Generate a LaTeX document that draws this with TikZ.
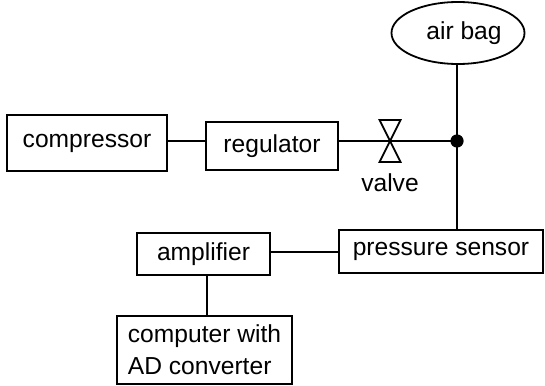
\documentclass[tikz,border=0pt]{standalone}
\usepackage{fontspec}
\setmainfont{Liberation Sans}
\usetikzlibrary{shapes.geometric}
\tikzstyle{block}=[draw, line width=0.9pt, inner sep=0pt, font=\fontsize{12.3}{16}\selectfont]
\tikzstyle{lbl}=[inner sep=0pt, font=\fontsize{12.3}{16}\selectfont]

\begin{document}
\begin{tikzpicture}[x=0.5pt, y=-0.5pt, line width=0.9pt]
	\useasboundingbox (0,0) rectangle (545,385);
	\node[block, minimum width=80pt, minimum height=28pt] (comp) at (87,143) {compressor};
	\node[block, minimum width=66pt, minimum height=24pt] (reg) at (272,146) {regulator};
	\node[block, ellipse, minimum width=66.5pt, minimum height=31pt] (bag) at (458,33) {\hspace{6pt}air bag};
	\node[block, minimum width=102pt, minimum height=21.5pt] (sensor) at (441,251.5) {pressure sensor};
	\node[block, minimum width=66.5pt, minimum height=21pt] (amp) at (203.5,254) {amplifier};
	\node[block, minimum width=87.5pt, minimum height=34pt, align=left] (pc) at (204.5,350) {computer with\\AD converter};
	\coordinate (v) at (390,141);
	\coordinate (j) at (457,141);
	\node[lbl] (vlabel) at (390,183) {valve};
	% valve symbol
	\draw (v) -- ++(-10.5,-21) -- ++(21,0) -- ++(-21,42) -- ++(21,0) -- cycle;
	\fill (j) circle (3.3pt);
	\draw (comp.east |- v) -- (reg.west |- v);
	\draw (reg.east |- v) -- (v) -- (j);
	\draw (bag.south -| j) -- (j) -- (j |- sensor.north);
	\draw (amp.east |- 0,252) -- (sensor.west |- 0,252);
	\draw (207,0 |- amp.south) -- (207,0 |- pc.north);
\end{tikzpicture}
\end{document}
